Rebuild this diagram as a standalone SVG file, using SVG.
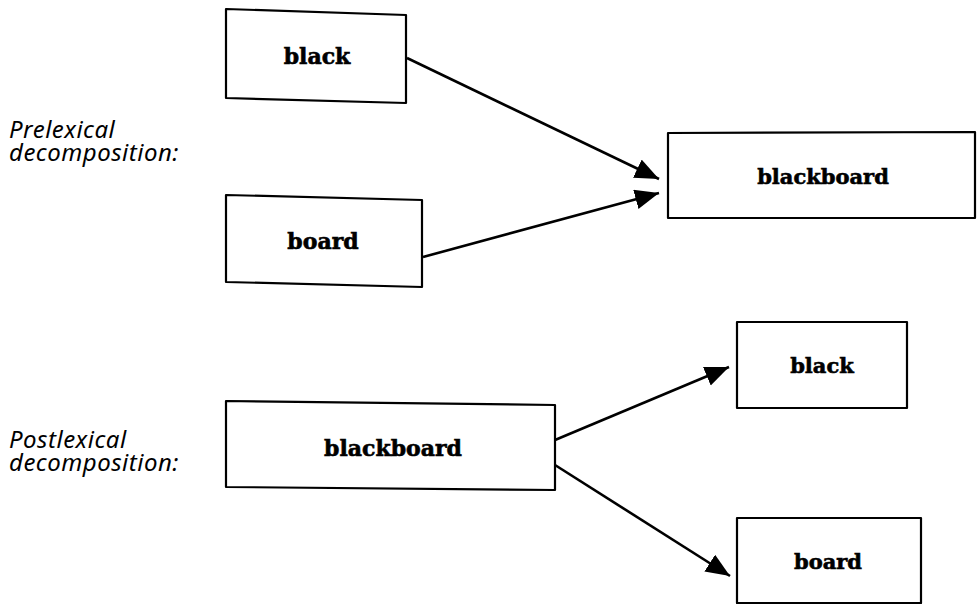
<svg xmlns="http://www.w3.org/2000/svg" width="978" height="604" viewBox="0 0 978 604">
  <style>
    .box { fill: #fff; stroke: #000; stroke-width: 2.2; stroke-linejoin: round; }
    .word { font-family: "DejaVu Serif", "Liberation Serif", serif; font-weight: bold; font-size: 22px; text-anchor: middle; fill: #000; stroke: #000; stroke-width: 0.6; }
    .word.small { font-size: 21px; }
    .label { font-family: "Noto Sans", "Open Sans", sans-serif; font-style: italic; font-size: 24px; letter-spacing: 0.5px; fill: #000; }
    .conn { stroke: #000; stroke-width: 2.6; fill: none; marker-end: url(#head); }
  </style>
  <defs>
    <marker id="head" markerUnits="userSpaceOnUse" markerWidth="26" markerHeight="22" refX="24" refY="10" orient="auto">
      <path d="M0,0 L24,10 L0,20 Z" fill="#000"/>
    </marker>
  </defs>
  <rect width="978" height="604" fill="#fff"/>

  <!-- side labels -->
  <g id="label-prelexical">
    <text class="label" x="9" y="138">Prelexical</text>
    <text class="label" x="9" y="161">decomposition:</text>
  </g>
  <g id="label-postlexical">
    <text class="label" x="9" y="448">Postlexical</text>
    <text class="label" x="9" y="471">decomposition:</text>
  </g>

  <!-- prelexical: parts -> whole -->
  <g id="pre-black">
    <polygon class="box" points="226,9 406,15 406,103 226,98"/>
    <text class="word" x="317" y="64">black</text>
  </g>
  <g id="pre-board">
    <polygon class="box" points="226,195 422,200 422,287 226,282"/>
    <text class="word" x="323" y="249">board</text>
  </g>
  <g id="pre-blackboard">
    <polygon class="box" points="668,133 975,132 975,218 668,218"/>
    <text class="word small" x="823" y="184">blackboard</text>
  </g>

  <!-- postlexical: whole -> parts -->
  <g id="post-blackboard">
    <polygon class="box" points="226,401 555,405 555,490 226,487"/>
    <text class="word" x="393" y="456">blackboard</text>
  </g>
  <g id="post-black">
    <polygon class="box" points="737,322 907,322 907,408 737,408"/>
    <text class="word small" x="822" y="373">black</text>
  </g>
  <g id="post-board">
    <polygon class="box" points="737,518 921,518 921,603 737,603"/>
    <text class="word small" x="828" y="569">board</text>
  </g>

  <!-- connectors -->
  <g id="connectors">
    <line class="conn" x1="407" y1="58" x2="659" y2="179"/>
    <line class="conn" x1="423" y1="257" x2="659" y2="193"/>
    <line class="conn" x1="555" y1="440" x2="729" y2="367"/>
    <line class="conn" x1="555" y1="465" x2="730" y2="576"/>
  </g>
</svg>
